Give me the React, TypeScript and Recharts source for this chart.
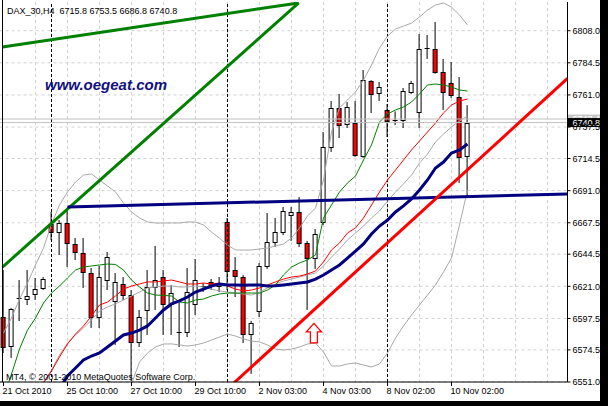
import React from 'react';
import {
  ComposedChart,
  XAxis,
  YAxis,
  CartesianGrid,
  Bar,
  Line,
  ReferenceLine,
  ReferenceDot,
} from 'recharts';

const FONT = '"Liberation Sans", Arial, Helvetica, sans-serif';

// ---- candle data (H4 bars, oldest first) ----
const opens = [
  6598.5, 6576.6, 6611.5, 6611.0, 6614.6, 6619.0, 6666.6, 6660.0, 6667.3, 6652.0,
  6645.4, 6630.7, 6597.8, 6624.9, 6609.5, 6622.7, 6614.6, 6579.5, 6602.9, 6619.8,
  6627.8, 6607.3, 6586.8, 6586.8, 6607.3, 6620.5, 6624.2, 6620.5, 6668.1, 6632.9,
  6627.8, 6585.4, 6602.2, 6635.1, 6652.7, 6660.0, 6672.4, 6675.4, 6652.7, 6641.0,
  6667.3, 6722.2, 6751.5, 6739.0, 6740.5, 6715.6, 6771.2, 6761.7, 6750.0, 6742.7,
  6741.9, 6762.4, 6747.8, 6794.6, 6794.6, 6777.8, 6769.7, 6759.5, 6715.8,
];
const highs = [
  6632.9, 6605.1, 6625.6, 6632.9, 6627.1, 6627.8, 6675.4, 6669.5, 6677.6, 6656.3,
  6656.3, 6634.4, 6635.9, 6646.1, 6630.7, 6627.8, 6618.3, 6603.7, 6632.9, 6650.5,
  6632.9, 6622.0, 6608.8, 6634.4, 6641.0, 6623.4, 6626.3, 6627.8, 6671.0, 6642.4,
  6629.2, 6595.6, 6638.1, 6674.6, 6671.0, 6679.0, 6679.0, 6686.3, 6654.2, 6662.9,
  6733.9, 6756.6, 6761.7, 6755.8, 6756.6, 6779.2, 6771.9, 6770.5, 6754.4, 6749.0,
  6766.1, 6771.2, 6805.6, 6804.8, 6814.4, 6787.3, 6785.1, 6774.1, 6753.5,
];
const lows = [
  6572.2, 6568.6, 6595.6, 6607.3, 6611.0, 6618.3, 6654.9, 6643.9, 6635.1, 6640.2,
  6619.8, 6590.5, 6590.5, 6618.3, 6578.1, 6611.0, 6551.7, 6576.6, 6585.4, 6603.7,
  6585.4, 6585.4, 6576.6, 6583.9, 6600.0, 6616.8, 6618.3, 6616.8, 6618.3, 6613.2,
  6579.5, 6556.9, 6598.5, 6633.7, 6649.8, 6658.5, 6654.2, 6649.8, 6603.7, 6633.7,
  6665.9, 6719.3, 6729.5, 6736.8, 6715.6, 6715.0, 6747.8, 6756.6, 6730.2, 6739.0,
  6736.8, 6761.7, 6736.8, 6787.3, 6776.5, 6750.0, 6758.8, 6696.6, 6686.8,
];
const closes = [
  6575.9, 6604.4, 6612.0, 6613.9, 6619.0, 6626.3, 6660.0, 6667.3, 6652.0, 6645.4,
  6630.7, 6597.8, 6627.8, 6642.4, 6624.2, 6613.9, 6579.5, 6598.5, 6620.5, 6625.6,
  6607.3, 6616.1, 6587.2, 6616.8, 6625.6, 6620.3, 6620.5, 6623.4, 6631.5, 6627.8,
  6585.4, 6594.2, 6635.9, 6653.4, 6660.7, 6676.1, 6675.4, 6652.0, 6641.0, 6659.3,
  6722.9, 6751.5, 6738.3, 6752.2, 6716.3, 6771.9, 6761.0, 6766.8, 6741.2, 6742.2,
  6763.9, 6769.7, 6794.6, 6794.9, 6777.1, 6762.4, 6760.2, 6714.9, 6740.8,
];

// ---- indicator lines (one value per bar) ----
const maNavy = [
  null, null, null, null, null, null, null, 6545.9, 6555.4, 6561.2,
  6567.1, 6570.0, 6572.2, 6576.6, 6581.0, 6585.4, 6586.8, 6589.0, 6592.0, 6597.8,
  6603.7, 6608.1, 6610.3, 6613.2, 6616.8, 6619.0, 6621.2, 6622.7, 6622.0, 6622.0,
  6621.8, 6621.9, 6622.0, 6621.2, 6621.4, 6622.0, 6622.7, 6623.4, 6624.2, 6626.3,
  6629.3, 6632.9, 6636.6, 6641.7, 6646.8, 6652.0, 6659.3, 6665.1, 6669.5, 6675.4,
  6679.8, 6684.9, 6691.5, 6698.8, 6707.6, 6711.9, 6718.5, 6720.7, 6725.1,
];
const maRed = [
  null, null, null, null, 6541.5, 6550.3, 6559.0, 6569.3, 6578.8, 6586.1,
  6592.0, 6599.3, 6607.3, 6609.5, 6613.9, 6619.0, 6621.2, 6622.7, 6624.2, 6624.2,
  6624.9, 6625.6, 6624.2, 6622.7, 6622.7, 6623.4, 6622.7, 6623.4, 6621.2, 6619.0,
  6617.6, 6618.3, 6619.8, 6622.0, 6624.2, 6626.3, 6627.8, 6628.5, 6630.0, 6632.2,
  6638.8, 6647.6, 6652.7, 6660.0, 6663.7, 6671.0, 6680.5, 6690.0, 6698.8, 6706.1,
  6713.4, 6720.7, 6727.3, 6733.9, 6740.5, 6747.8, 6753.6, 6756.6, 6758.0,
];
const maGreen = [
  6539.3, 6556.8, 6575.1, 6589.0, 6597.8, 6608.8, 6616.1, 6621.2, 6627.1, 6632.9,
  6635.1, 6635.9, 6636.6, 6637.3, 6637.0, 6632.9, 6625.6, 6620.5, 6616.1, 6614.6,
  6614.4, 6613.9, 6609.5, 6608.8, 6611.0, 6611.7, 6613.9, 6615.4, 6616.1, 6616.0,
  6616.2, 6616.1, 6616.0, 6618.3, 6622.0, 6629.3, 6635.1, 6638.1, 6640.3, 6643.9,
  6671.0, 6680.5, 6690.0, 6696.6, 6701.7, 6713.4, 6724.4, 6741.2, 6747.1, 6750.0,
  6752.2, 6755.8, 6761.7, 6768.3, 6769.0, 6768.3, 6766.8, 6764.6, 6763.9,
];
const bbMiddle = [
  null, null, null, null, 6539.3, 6551.0, 6559.8, 6570.8, 6579.5, 6585.4,
  6590.5, 6596.4, 6602.9, 6605.9, 6608.1, 6611.0, 6613.9, 6616.8, 6619.8, 6620.5,
  6621.2, 6621.3, 6620.5, 6620.6, 6621.2, 6620.5, 6619.0, 6617.6, 6616.8, 6616.1,
  6615.4, 6614.6, 6616.8, 6619.8, 6622.7, 6624.9, 6626.3, 6627.8, 6629.3, 6630.7,
  6635.9, 6642.4, 6648.3, 6654.9, 6660.0, 6665.1, 6671.0, 6676.1, 6683.4, 6690.0,
  6695.9, 6702.4, 6711.2, 6717.8, 6726.6, 6732.4, 6737.6, 6741.9, 6745.6,
];
const bbUpper = [
  6586.8, 6597.8, 6611.7, 6623.4, 6636.6, 6649.0, 6666.6, 6680.5, 6690.0, 6697.3,
  6702.4, 6703.2, 6698.8, 6694.4, 6690.0, 6682.0, 6675.4, 6671.0, 6668.1, 6667.3,
  6667.3, 6667.4, 6667.3, 6668.1, 6668.0, 6665.9, 6660.7, 6656.3, 6651.2, 6647.6,
  6647.5, 6647.6, 6648.3, 6649.0, 6650.5, 6652.0, 6656.3, 6663.7, 6672.4, 6678.3,
  6698.8, 6733.9, 6751.5, 6757.3, 6763.2, 6771.9, 6782.9, 6795.3, 6804.1, 6809.2,
  6811.4, 6813.6, 6818.0, 6823.1, 6826.8, 6828.3, 6825.3, 6819.5, 6812.2,
];
const bbLower = [
  null, null, null, null, null, null, null, null, null, null,
  null, null, null, null, null, 6537.8, 6549.5, 6565.6, 6572.2, 6576.6,
  6578.8, 6578.9, 6578.1, 6577.3, 6578.1, 6579.5, 6581.7, 6583.9, 6586.1, 6584.6,
  6582.5, 6581.0, 6580.3, 6578.1, 6575.1, 6574.4, 6575.1, 6576.6, 6578.8, 6579.5,
  6572.9, 6562.7, 6562.7, 6564.2, 6564.9, 6563.4, 6562.0, 6564.2, 6572.2, 6583.2,
  6592.0, 6600.0, 6607.3, 6614.6, 6622.0, 6631.5, 6641.7, 6665.9, 6691.5,
];

// ---- axes / annotations ----
const slotCount = 71; // 59 bars + empty chart-shift slots
const timeTickBars = [0, 8, 16, 24, 32, 40, 48, 56];
const timeTickLabels = [
  '21 Oct 2010', '25 Oct 10:00', '27 Oct 10:00', '29 Oct 10:00',
  '2 Nov 03:00', '4 Nov 03:00', '8 Nov 02:00', '10 Nov 02:00',
];
const gridBars = [0, 4, 8, 12, 16, 20, 24, 28, 32, 36, 40, 44, 48, 52, 56, 60, 64, 68];
const priceTicks = [6551.0, 6574.5, 6597.5, 6621.0, 6644.5, 6667.5, 6691.0, 6714.5, 6737.5, 6761.0, 6784.5, 6808.0];
const priceDomain = [6551.0, 6829.0];
const weekStartBars = [6, 28, 48];
const askPrice = 6743.4;

const greenFanUpper = [{ x: -0.125, y: 6796.1 }, { x: 36.9, y: 6828.3 }];
const greenFanLower = [{ x: -0.125, y: 6635.1 }, { x: 36.9, y: 6828.3 }];
const redTrend = [{ x: 28, y: 6546.0 }, { x: 70.5, y: 6773.1 }];
const navyTrend = [{ x: 8, y: 6679.0 }, { x: 70.5, y: 6688.6 }];
const arrowAnchor = { x: 38.8, y: 6593.9 };

const lastIdx = opens.length - 1;
const lastClose = closes[lastIdx];
const title = `DAX_30,H4  ${opens[lastIdx].toFixed(1)} ${highs[lastIdx].toFixed(1)} ${lows[lastIdx].toFixed(1)} ${closes[lastIdx].toFixed(1)}`;

const data = Array.from({ length: slotCount }, (_, i) => {
  const has = i < opens.length;
  return {
    i,
    has,
    wick: has ? [lows[i], highs[i]] : null,
    body: has ? [Math.min(opens[i], closes[i]), Math.max(opens[i], closes[i])] : null,
    bull: has ? closes[i] >= opens[i] : false,
    navy: has ? maNavy[i] : null,
    red: has ? maRed[i] : null,
    green: has ? maGreen[i] : null,
    mid: has ? bbMiddle[i] : null,
    up: has ? bbUpper[i] : null,
    low: has ? bbLower[i] : null,
  };
});

const okNum = (v: any) => typeof v === 'number' && Number.isFinite(v);

const WickShape = (props: any) => {
  const { x, y, width, height, payload } = props;
  if (!payload || !payload.has || !okNum(x) || !okNum(y) || !okNum(height)) return null;
  const cx = x + width / 2;
  const top = Math.min(y, y + height);
  const bot = Math.max(y, y + height);
  return <line x1={cx} x2={cx} y1={top} y2={bot} stroke="#000" strokeWidth={1} />;
};

const BodyShape = (props: any) => {
  const { x, y, width, height, payload } = props;
  if (!payload || !payload.has || !okNum(x) || !okNum(y) || !okNum(height)) return null;
  const cx = x + width / 2;
  const left = cx - 2.5;
  const top = Math.min(y, y + height);
  const bot = Math.max(y, y + height);
  const t = Math.round(top);
  const hh = Math.round(bot) - t;
  if (hh <= 1) {
    return <line x1={left} x2={left + 5} y1={t + 0.5} y2={t + 0.5} stroke="#000" strokeWidth={1} />;
  }
  return (
    <rect
      x={left + 0.5}
      y={t + 0.5}
      width={4}
      height={hh - 1}
      fill={payload.bull ? '#ffffff' : '#ff0000'}
      stroke="#000"
      strokeWidth={1}
    />
  );
};

const timeLabelOf = (v: number) => {
  const k = timeTickBars.indexOf(v);
  return k < 0 ? '' : timeTickLabels[k];
};

const PriceBox = (props: any) => {
  const { viewBox, text, bg, fg } = props;
  if (!viewBox) return null;
  const x = viewBox.x + viewBox.width + 0.5;
  const y = viewBox.y;
  return (
    <g>
      <rect x={x} y={y - 4.5} width={32.5} height={9} fill={bg} />
      <text x={x + 4.5} y={y + 3.3} fill={fg} fontSize={9} fontFamily={FONT}>
        {text}
      </text>
    </g>
  );
};

const ArrowUp = (props: any) => {
  const { cx, cy } = props;
  if (!okNum(cx) || !okNum(cy)) return null;
  const pts = [
    [0, 0], [7.5, 8.5], [3.5, 8.5], [3.5, 19.5], [-3.5, 19.5], [-3.5, 8.5], [-7.5, 8.5],
  ]
    .map(([dx, dy]) => `${cx + dx},${cy + dy}`)
    .join(' ');
  return <polygon points={pts} fill="#ffffff" stroke="#ff0000" strokeWidth={1.3} />;
};

export default function App() {
  return (
    <div
      style={{
        position: 'absolute',
        left: 0,
        top: 0,
        width: 608,
        height: 406,
        background: '#ffffff',
        overflow: 'hidden',
      }}
    >
      <ComposedChart
        width={608}
        height={406}
        data={data}
        margin={{ top: 2, right: 0, bottom: 6, left: -0.5 }}
      >
        <XAxis
          xAxisId="cat"
          dataKey="i"
          type="category"
          ticks={timeTickBars}
          interval={0}
          height={18}
          tickSize={4}
          tickMargin={2}
          tickFormatter={timeLabelOf}
          tick={{ fontSize: 9, fill: '#000', fontFamily: FONT, textAnchor: 'start', dx: -1 }}
          axisLine={{ stroke: '#000' }}
          tickLine={{ stroke: '#000' }}
        />
        <XAxis
          xAxisId={0}
          type="number"
          dataKey="i"
          domain={[-0.5, slotCount - 0.5]}
          ticks={gridBars}
          allowDataOverflow
          height={0}
          hide
        />
        <XAxis xAxisId="cat2" dataKey="i" type="category" height={0} hide />
        <YAxis
          orientation="right"
          type="number"
          domain={priceDomain}
          allowDataOverflow
          ticks={priceTicks}
          interval={0}
          width={40.5}
          tickSize={3}
          tickMargin={2}
          tickFormatter={(v: number) => v.toFixed(1)}
          tick={{ fontSize: 9, fill: '#000', fontFamily: FONT }}
          axisLine={{ stroke: '#000' }}
          tickLine={{ stroke: '#000' }}
        />
        <CartesianGrid
          xAxisId={0}
          stroke="#d0d0d0"
          strokeDasharray="3 3"
          verticalValues={gridBars}
          horizontalValues={priceTicks}
        />

        {weekStartBars.map((b) => (
          <ReferenceLine key={`sep${b}`} x={b} stroke="#000" strokeDasharray="3 2" strokeWidth={1} />
        ))}

        <Bar
          xAxisId="cat"
          dataKey="wick"
          barSize={8}
          shape={<WickShape />}
          isAnimationActive={false}
        />
        <Bar
          xAxisId="cat2"
          dataKey="body"
          barSize={8}
          minPointSize={1}
          shape={<BodyShape />}
          isAnimationActive={false}
        />

        <Line xAxisId="cat" dataKey="up" stroke="#a8a8a8" strokeWidth={1} dot={false} activeDot={false} isAnimationActive={false} />
        <Line xAxisId="cat" dataKey="low" stroke="#a8a8a8" strokeWidth={1} dot={false} activeDot={false} isAnimationActive={false} />
        <Line xAxisId="cat" dataKey="mid" stroke="#a8a8a8" strokeWidth={1} dot={false} activeDot={false} isAnimationActive={false} />
        <Line xAxisId="cat" dataKey="green" stroke="#008000" strokeWidth={1} dot={false} activeDot={false} isAnimationActive={false} />
        <Line xAxisId="cat" dataKey="red" stroke="#ff0000" strokeWidth={1} dot={false} activeDot={false} isAnimationActive={false} />
        <Line xAxisId="cat" dataKey="navy" stroke="#000080" strokeWidth={3} dot={false} activeDot={false} isAnimationActive={false} />

        <ReferenceLine
          y={askPrice}
          stroke="#c0c0c0"
          strokeWidth={1}
          label={<PriceBox text={askPrice.toFixed(1)} bg="#c8c8c8" fg="#ffffff" />}
        />
        <ReferenceLine
          y={lastClose}
          stroke="#c0c0c0"
          strokeWidth={1}
          label={<PriceBox text={lastClose.toFixed(1)} bg="#000000" fg="#ffffff" />}
        />

        <ReferenceLine segment={greenFanUpper} stroke="#008000" strokeWidth={3} ifOverflow="hidden" />
        <ReferenceLine segment={greenFanLower} stroke="#008000" strokeWidth={3} ifOverflow="hidden" />
        <ReferenceLine segment={navyTrend} stroke="#000080" strokeWidth={3} ifOverflow="hidden" />
        <ReferenceLine segment={redTrend} stroke="#ff0000" strokeWidth={3} ifOverflow="hidden" />

        <ReferenceDot x={arrowAnchor.x} y={arrowAnchor.y} r={1} shape={<ArrowUp />} />
      </ComposedChart>

      <svg
        width={608}
        height={406}
        style={{ position: 'absolute', left: 0, top: 0, pointerEvents: 'none' }}
      >
        <line x1={2.5} y1={0} x2={2.5} y2={382} stroke="#000" strokeWidth={1} />
        <rect x={600} y={0} width={8} height={406} fill="#000" />
        <rect x={0} y={401} width={608} height={5} fill="#000" />
        <text x={7} y={14} fontSize={9} fontFamily={FONT} fill="#000" style={{ whiteSpace: 'pre' }}>
          {title}
        </text>
        <text
          x={45}
          y={90}
          fontSize={15}
          fontWeight="bold"
          fontStyle="italic"
          fontFamily={FONT}
          fill="#101080"
        >
          www.oegeat.com
        </text>
        <text x={6} y={380} fontSize={9} fontFamily={FONT} fill="#000">
          MT4, © 2001-2010 MetaQuotes Software Corp.
        </text>
      </svg>
    </div>
  );
}
